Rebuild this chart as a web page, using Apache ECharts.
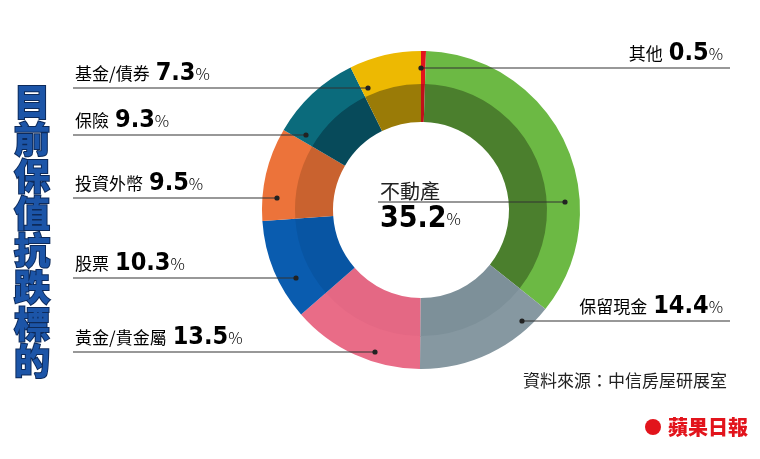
<!DOCTYPE html>
<html><head><meta charset="utf-8">
<script src="https://cdn.jsdelivr.net/npm/echarts@6/dist/echarts.min.js"></script>
<style>html,body{margin:0;background:#fff}#c{width:760px;height:459px}</style>
</head><body><div id="c"></div>
<script>
// data, clockwise from 12 o'clock
const names = ['其他', '不動產', '保留現金', '黃金/貴金屬', '股票', '投資外幣', '保險', '基金/債券']
const values = [0.5, 35.2, 14.4, 13.5, 10.3, 9.5, 9.3, 7.3]
const outerColors = ['#e2141c', '#6cb944', '#8698a1', '#e96c87', '#0a5caf', '#ec733a', '#0b6b7c', '#edb902']
const innerColors = ['#c0101a', '#4b7f2d', '#7d9099', '#e46884', '#0855a3', '#c9622f', '#074a5a', '#9a7b07']

// label layout: [dotX, dotY, lineX2, textSide]
const layout = [
    [421, 68, 730, 'r'],
    [565, 202, 378, 'c'],
    [522, 321, 730, 'r'],
    [375, 352, 73, 'l'],
    [296, 278, 73, 'l'],
    [277, 198, 73, 'l'],
    [306, 135, 73, 'l'],
    [368, 88, 73, 'l']
]

const numFont = '"DejaVu Sans Condensed","Liberation Sans Narrow",sans-serif'
const rich = {
    n: {fontFamily: 'Noto Sans CJK TC', fontSize: 17, color: '#222'},
    v: {fontFamily: numFont, fontWeight: 'bold', fontSize: 25, color: '#222', padding: [0, 0, 0, 6]},
    b: {fontFamily: numFont, fontWeight: 'bold', fontSize: 30, color: '#222'},
    p: {fontFamily: 'Noto Sans CJK TC', fontWeight: 200, fontSize: 16, color: '#222'}
}

let g = []
layout.forEach((l, i) => {
    let [dx, dy, x2, side] = l
    g.push({type: 'line', shape: {x1: dx, y1: dy, x2: x2, y2: dy}, style: {stroke: '#333', lineWidth: 1.2}, z: 10})
    g.push({type: 'circle', shape: {cx: dx, cy: dy, r: 2.6}, style: {fill: '#222'}, z: 11})
    if (side === 'c') {
        g.push({type: 'text', x: 380, y: dy - 1, style: {text: names[i], fontFamily: 'Noto Sans CJK TC', fontSize: 20, fill: '#222', textVerticalAlign: 'bottom'}, z: 12})
        g.push({type: 'text', x: 380, y: dy + 2, style: {rich: rich, text: '{b|' + values[i] + '}{p|%}', textVerticalAlign: 'top'}, z: 12})
        return
    }
    g.push({
        type: 'text',
        x: side === 'l' ? 75 : 723,
        y: dy - 2,
        style: {
            rich: rich,
            text: '{n|' + names[i] + '}{v|' + values[i] + '}{p|%}',
            textAlign: side === 'l' ? 'left' : 'right',
            textVerticalAlign: 'bottom'
        },
        z: 12
    })
})

// vertical title
g.push({
    type: 'text', x: 32, y: 232,
    style: {
        text: '目\n前\n保\n值\n抗\n跌\n標\n的',
        fontFamily: 'Noto Sans CJK TC', fontWeight: 900, fontSize: 36, lineHeight: 37,
        fill: '#1c55a8', stroke: '#0d2a5a', lineWidth: 2,
        textAlign: 'center', textVerticalAlign: 'middle'
    }
})
g.push({type: 'text', x: 727, y: 381, style: {text: '資料來源：中信房屋研展室', fontFamily: 'Noto Sans CJK TC', fontSize: 17, fill: '#222', textAlign: 'right', textVerticalAlign: 'middle'}})
g.push({type: 'circle', shape: {cx: 653, cy: 427, r: 8}, style: {fill: '#e2141c'}})
g.push({type: 'text', x: 748, y: 427, style: {text: '蘋果日報', fontFamily: 'Noto Sans CJK TC', fontWeight: 900, fontSize: 20, fill: '#e2141c', textAlign: 'right', textVerticalAlign: 'middle'}})

const mk = (cols) => names.map((n, i) => ({name: n, value: values[i], itemStyle: {color: cols[i]}}))
const base = {
    type: 'pie', center: [421, 210], startAngle: 90, clockwise: true,
    label: {show: false}, labelLine: {show: false}, silent: true, animation: false
}

let option = {
    backgroundColor: '#fff',
    series: [
        Object.assign({}, base, {radius: [88, 127], data: mk(innerColors)}),
        Object.assign({}, base, {radius: [126, 159], data: mk(outerColors)})
    ],
    graphic: g
}

let chart = echarts.init(document.getElementById('c'))
chart.setOption(option)
</script></body></html>
